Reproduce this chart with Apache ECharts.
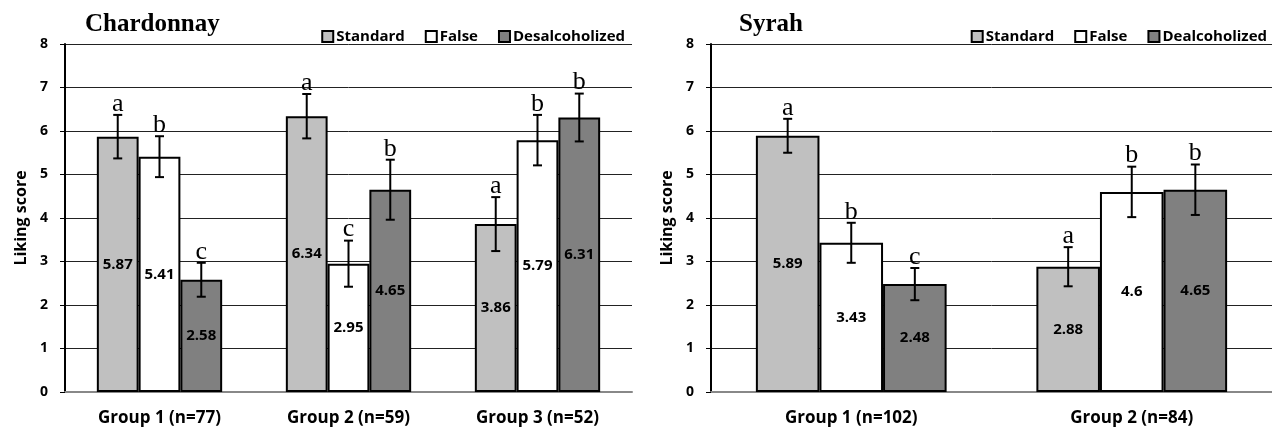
<!DOCTYPE html>
<html>
<head>
<meta charset="utf-8">
<script src="https://cdn.jsdelivr.net/npm/echarts@6/dist/echarts.min.js"></script>
<style>
html,body{margin:0;padding:0;background:#fff;}
#c{width:1272px;height:427px;}
</style>
</head>
<body>
<div id="c"></div>
<script>
// ---- Data ----
const chardCategories = ['Group 1 (n=77)', 'Group 2 (n=59)', 'Group 3 (n=52)'];
const chardStandard = [5.87, 6.34, 3.86];
const chardFalse = [5.41, 2.95, 5.79];
const chardDesalc = [2.58, 4.65, 6.31];
const chardStandardErr = [0.50, 0.51, 0.62];
const chardFalseErr = [0.47, 0.53, 0.58];
const chardDesalcErr = [0.39, 0.69, 0.55];
const chardStandardLetters = ['a', 'a', 'a'];
const chardFalseLetters = ['b', 'c', 'b'];
const chardDesalcLetters = ['c', 'b', 'b'];

const syrahCategories = ['Group 1 (n=102)', 'Group 2 (n=84)'];
const syrahStandard = [5.89, 2.88];
const syrahFalse = [3.43, 4.6];
const syrahDealc = [2.48, 4.65];
const syrahStandardErr = [0.39, 0.45];
const syrahFalseErr = [0.46, 0.58];
const syrahDealcErr = [0.37, 0.58];
const syrahStandardLetters = ['a', 'a'];
const syrahFalseLetters = ['b', 'b'];
const syrahDealcLetters = ['c', 'b'];

const yTicks = [0, 1, 2, 3, 4, 5, 6, 7, 8];

// ---- Styles ----
const SANS = '"Open Sans", "Liberation Sans", sans-serif';
const SERIF = '"Liberation Serif", "DejaVu Serif", serif';
const colors = ['#c0c0c0', '#ffffff', '#808080'];
const gapL = 0.337, gapR = 0.32;

function barSeries(name, data, idx, gi, gap) {
  return {
    name: name, type: 'bar', xAxisIndex: gi, yAxisIndex: gi,
    data: data, barGap: '0%', barCategoryGap: (gap * 100) + '%',
    itemStyle: { color: colors[idx], borderColor: '#000', borderWidth: 2 },
    label: { show: true, position: 'inside', color: '#000', fontFamily: SANS,
             fontWeight: 'bold', fontSize: 15, formatter: p => String(p.value) },
    z: 2
  };
}
function errSeries(values, errs, letters, idx, gi, gap) {
  return {
    type: 'custom', xAxisIndex: gi, yAxisIndex: gi, z: 5, silent: true,
    data: values.map((v, i) => [i, v, errs[i]]),
    renderItem: function (params, api) {
      const c = api.value(0), v = api.value(1), e = api.value(2);
      const band = api.size([1, 0])[0];
      const w = band * (1 - gap) / 3;
      const cx = api.coord([c, v])[0] + (idx - 1) * w;
      const yT = api.coord([c, v + e])[1], yB = api.coord([c, v - e])[1];
      const cap = 4.5;
      const ls = { stroke: '#000', lineWidth: 2 };
      return { type: 'group', children: [
        { type: 'line', shape: { x1: cx, y1: yT, x2: cx, y2: yB }, style: ls },
        { type: 'line', shape: { x1: cx - cap, y1: yT, x2: cx + cap, y2: yT }, style: ls },
        { type: 'line', shape: { x1: cx - cap, y1: yB, x2: cx + cap, y2: yB }, style: ls },
        { type: 'text', style: { text: letters[params.dataIndex], x: cx, y: yT + 2,
            align: 'center', verticalAlign: 'bottom', fill: '#000',
            font: '26px ' + SERIF } }
      ]};
    }
  };
}
function xAxis(gi, cats) {
  return { type: 'category', gridIndex: gi, data: cats,
    axisLine: { lineStyle: { color: '#888', width: 2 } }, axisTick: { show: false },
    axisLabel: { color: '#000', fontFamily: SANS, fontWeight: 'bold', fontSize: 17, margin: 18 } };
}
function yAxis(gi) {
  return { type: 'value', gridIndex: gi, min: yTicks[0], max: yTicks[yTicks.length - 1], interval: 1,
    name: 'Liking score', nameLocation: 'middle', nameGap: 36, nameRotate: 90,
    nameTextStyle: { color: '#000', fontFamily: SANS, fontWeight: 'bold', fontSize: 16 },
    axisLine: { show: true, lineStyle: { color: '#000', width: 2 } },
    axisTick: { show: true, length: 5, lineStyle: { color: '#000', width: 1 } },
    axisLabel: { color: '#000', fontFamily: SANS, fontWeight: 'bold', fontSize: 14, margin: 17 },
    splitLine: { lineStyle: { color: '#222', width: 1 } } };
}
const legendCommon = { itemWidth: 11, itemHeight: 11, itemGap: 20, top: 24,
  textStyle: { color: '#000', fontFamily: SANS, fontWeight: 'bold', fontSize: 15, padding: [0, 0, 0, -2] },
  itemStyle: { borderColor: '#000', borderWidth: 2 }, icon: 'rect' };

const option = {
  animation: false,
  backgroundColor: '#fff',
  title: [
    { text: 'Chardonnay', left: 80, top: 7, textStyle: { fontFamily: SERIF, fontWeight: 'bold', fontSize: 25, color: '#000' } },
    { text: 'Syrah', left: 734, top: 7, textStyle: { fontFamily: SERIF, fontWeight: 'bold', fontSize: 25, color: '#000' } }
  ],
  legend: [
    Object.assign({}, legendCommon, { data: ['Standard', 'False', 'Desalcoholized'], right: 642 }),
    Object.assign({}, legendCommon, { data: ['Standard', 'False', 'Dealcoholized'], right: 0 })
  ],
  grid: [
    { left: 65, top: 44, width: 567, height: 348 },
    { left: 711, top: 44, width: 561, height: 348 }
  ],
  xAxis: [xAxis(0, chardCategories), xAxis(1, syrahCategories)],
  yAxis: [yAxis(0), yAxis(1)],
  series: [
    barSeries('Standard', chardStandard, 0, 0, gapL),
    barSeries('False', chardFalse, 1, 0, gapL),
    barSeries('Desalcoholized', chardDesalc, 2, 0, gapL),
    barSeries('Standard', syrahStandard, 0, 1, gapR),
    barSeries('False', syrahFalse, 1, 1, gapR),
    barSeries('Dealcoholized', syrahDealc, 2, 1, gapR),
    errSeries(chardStandard, chardStandardErr, chardStandardLetters, 0, 0, gapL),
    errSeries(chardFalse, chardFalseErr, chardFalseLetters, 1, 0, gapL),
    errSeries(chardDesalc, chardDesalcErr, chardDesalcLetters, 2, 0, gapL),
    errSeries(syrahStandard, syrahStandardErr, syrahStandardLetters, 0, 1, gapR),
    errSeries(syrahFalse, syrahFalseErr, syrahFalseLetters, 1, 1, gapR),
    errSeries(syrahDealc, syrahDealcErr, syrahDealcLetters, 2, 1, gapR)
  ]
};
const chart = echarts.init(document.getElementById('c'), null, { renderer: 'canvas' });
chart.setOption(option);
</script>
</body>
</html>
